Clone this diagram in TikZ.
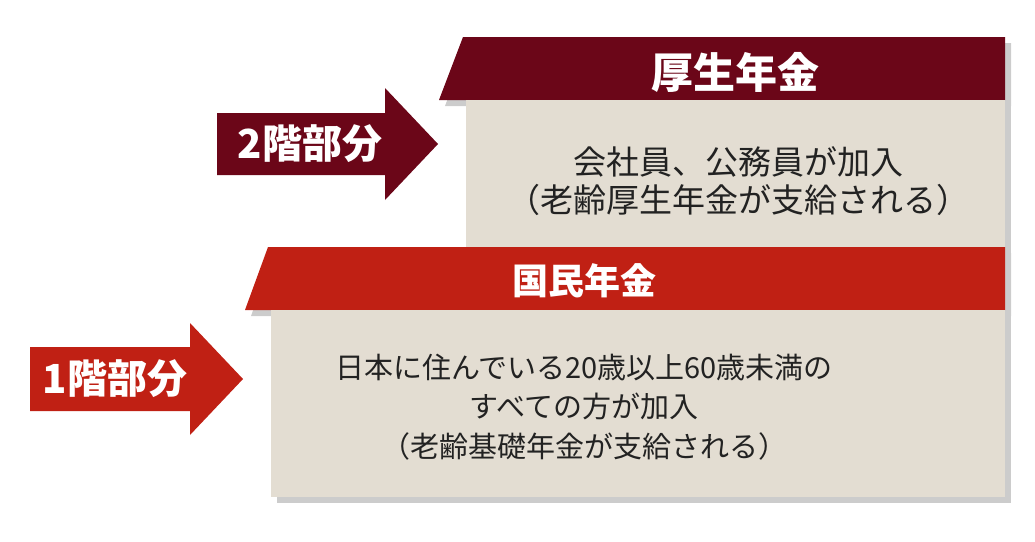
\documentclass[tikz,border=0pt]{standalone}
\usepackage{fontspec}
\setmainfont{Noto Sans CJK JP}
\definecolor{darkred}{HTML}{6B0618}
\definecolor{brightred}{HTML}{C02014}
\definecolor{beige}{HTML}{E3DDD2}
\definecolor{shadowgray}{HTML}{CCCCCC}
\definecolor{bodytext}{HTML}{222222}
\tikzset{
  shade6/.style={fill=shadowgray, draw=none, shift={(6,6)}},
  upperfill/.style={fill=darkred, draw=none},
  lowerfill/.style={fill=brightred, draw=none},
  bodyfill/.style={fill=beige, draw=none},
  arrowtext/.style={text=white, font=\bfseries\fontsize{40}{44}\selectfont, inner sep=0pt},
  headtextA/.style={text=white, font=\bfseries\fontsize{42}{46}\selectfont, inner sep=0pt},
  headtextB/.style={text=white, font=\bfseries\fontsize{36}{40}\selectfont, inner sep=0pt},
  bodytextA/.style={text=bodytext, font=\fontsize{33}{38}\selectfont, align=center, inner sep=0pt},
  bodytextB/.style={text=bodytext, font=\fontsize{29}{39.5}\selectfont, align=center, inner sep=0pt},
}
\begin{document}
\begin{tikzpicture}[x=1pt, y=-1pt]
\useasboundingbox (0,0) rectangle (1035,541);
% upper block (厚生年金)
\fill[shade6] (463,37) -- (1005,37) -- (1005,100) -- (439,100) -- cycle;
\fill[shade6] (466,100) rectangle (1005,247);
\fill[upperfill] (463,37) -- (1005,37) -- (1005,100) -- (439,100) -- cycle;
\fill[bodyfill] (466,100) rectangle (1005,247);
% lower block (国民年金)
\fill[shade6] (268,247) -- (1005,247) -- (1005,310) -- (245,310) -- cycle;
\fill[shade6] (271,310) rectangle (1005,497);
\fill[lowerfill] (268,247) -- (1005,247) -- (1005,310) -- (245,310) -- cycle;
\fill[bodyfill] (271,310) rectangle (1005,497);
% arrows
\fill[upperfill] (217,113) -- (385,113) -- (385,88) -- (438,144) -- (385,200) -- (385,175) -- (217,175) -- cycle;
\fill[lowerfill] (30,347) -- (190,347) -- (190,323) -- (243,379) -- (190,435) -- (190,411) -- (30,411) -- cycle;
% texts
\node[arrowtext] (arrow2) at (310,144) {2階部分};
\node[arrowtext] (arrow1) at (115,379) {1階部分};
\node[headtextA] (head2) at (735,72) {厚生年金};
\node[headtextB] (head1) at (584,281) {国民年金};
\node[bodytextA] (body2) at (738,181) {会社員、公務員が加入\\（老齢厚生年金が支給される）};
\node[bodytextB] (body1) at (584,407) {日本に住んでいる20歳以上60歳未満の\\すべての方が加入\\（老齢基礎年金が支給される）};
\end{tikzpicture}
\end{document}
